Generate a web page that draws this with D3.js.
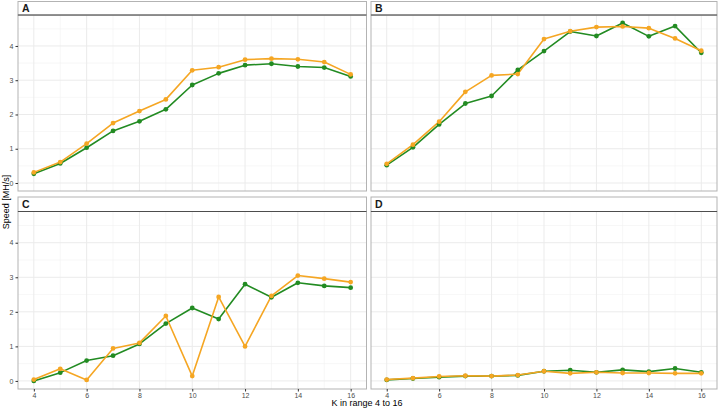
<!DOCTYPE html>
<html>
<head>
<meta charset="utf-8">
<script src="https://cdn.jsdelivr.net/npm/d3@7/dist/d3.min.js"></script>
<style>
  html, body { margin: 0; padding: 0; background: #fff; }
  svg { display: block; font-family: "Liberation Sans", Arial, sans-serif; }
</style>
</head>
<body>
<svg id="chart" width="720" height="409"></svg>
<script>
const kValues = [4, 5, 6, 7, 8, 9, 10, 11, 12, 13, 14, 15, 16];
const panelNames = ["A", "B", "C", "D"];
const xTicks = [4, 6, 8, 10, 12, 14, 16];
const yTicks = [0, 1, 2, 3, 4];

const greenA = [0.27, 0.57, 1.03, 1.52, 1.80, 2.15, 2.86, 3.20, 3.44, 3.48, 3.40, 3.37, 3.11];
const orangeA = [0.31, 0.61, 1.15, 1.75, 2.10, 2.44, 3.29, 3.38, 3.60, 3.63, 3.61, 3.53, 3.17];
const greenB = [0.52, 1.04, 1.71, 2.32, 2.54, 3.30, 3.85, 4.42, 4.29, 4.67, 4.28, 4.58, 3.80];
const orangeB = [0.56, 1.12, 1.79, 2.66, 3.14, 3.18, 4.20, 4.43, 4.55, 4.57, 4.52, 4.22, 3.86];
const greenC = [0.00, 0.24, 0.59, 0.73, 1.07, 1.66, 2.11, 1.79, 2.80, 2.42, 2.84, 2.75, 2.70];
const orangeC = [0.04, 0.35, 0.03, 0.94, 1.10, 1.88, 0.14, 2.43, 1.00, 2.46, 3.05, 2.96, 2.86];
const greenD = [0.03, 0.07, 0.11, 0.14, 0.14, 0.16, 0.28, 0.31, 0.25, 0.32, 0.27, 0.36, 0.25];
const orangeD = [0.04, 0.08, 0.13, 0.15, 0.14, 0.17, 0.28, 0.22, 0.25, 0.23, 0.23, 0.22, 0.22];

const seriesColors = ["#228B22", "#F5A623"];
const panelSeries = {
  A: [greenA, orangeA],
  B: [greenB, orangeB],
  C: [greenC, orangeC],
  D: [greenD, orangeD]
};

const svg = d3.select("#chart");

const cols = [{x0: 18, x1: 366.5}, {x0: 371, x1: 717}];
const rows = [{s0: 1.5, y0: 15, y1: 191}, {s0: 197, y0: 211.5, y1: 389}];

const allVals = [].concat(...Object.values(panelSeries).flat());
const yMin = d3.min(allVals), yMax = d3.max(allVals);
const yPad = (yMax - yMin) * 0.05;
const xPad = (d3.max(kValues) - d3.min(kValues)) * 0.05;

panelNames.forEach((name, i) => {
  const c = cols[i % 2], r = rows[Math.floor(i / 2)];
  const x = d3.scaleLinear().domain([d3.min(kValues) - xPad, d3.max(kValues) + xPad]).range([c.x0, c.x1]);
  const y = d3.scaleLinear().domain([yMin - yPad, yMax + yPad]).range([r.y1, r.y0]);
  const g = svg.append("g");

  // grid minor
  const xMinor = d3.range(5, 16, 2);
  const yMinor = [0.5, 1.5, 2.5, 3.5, 4.5];
  g.selectAll(".xmin").data(xMinor).join("line")
    .attr("x1", d => x(d)).attr("x2", d => x(d)).attr("y1", r.y0).attr("y2", r.y1)
    .attr("stroke", "#F2F2F2").attr("stroke-width", 0.6);
  g.selectAll(".ymin").data(yMinor).join("line")
    .attr("x1", c.x0).attr("x2", c.x1).attr("y1", d => y(d)).attr("y2", d => y(d))
    .attr("stroke", "#F2F2F2").attr("stroke-width", 0.6);
  g.selectAll(".xmaj").data(xTicks).join("line")
    .attr("x1", d => x(d)).attr("x2", d => x(d)).attr("y1", r.y0).attr("y2", r.y1)
    .attr("stroke", "#EBEBEB").attr("stroke-width", 1);
  g.selectAll(".ymaj").data(yTicks).join("line")
    .attr("x1", c.x0).attr("x2", c.x1).attr("y1", d => y(d)).attr("y2", d => y(d))
    .attr("stroke", "#EBEBEB").attr("stroke-width", 1);

  // series lines then points
  const line = d3.line().x((d, j) => x(kValues[j])).y(d => y(d));
  panelSeries[name].forEach((vals, s) => {
    g.append("path").datum(vals).attr("d", line)
      .attr("fill", "none").attr("stroke", seriesColors[s]).attr("stroke-width", 1.6)
      .attr("stroke-linejoin", "round");
  });
  panelSeries[name].forEach((vals, s) => {
    g.selectAll(null).data(vals).join("circle")
      .attr("cx", (d, j) => x(kValues[j])).attr("cy", d => y(d)).attr("r", 2.4)
      .attr("fill", seriesColors[s]);
  });

  // panel border
  g.append("rect").attr("x", c.x0).attr("y", r.y0).attr("width", c.x1 - c.x0).attr("height", r.y1 - r.y0)
    .attr("fill", "none").attr("stroke", "#B3B3B3").attr("stroke-width", 1);
  // strip
  g.append("rect").attr("x", c.x0).attr("y", r.s0).attr("width", c.x1 - c.x0).attr("height", r.y0 - r.s0)
    .attr("fill", "#fff").attr("stroke", "#B3B3B3").attr("stroke-width", 1);
  g.append("line").attr("x1", c.x0).attr("x2", c.x1).attr("y1", r.y0).attr("y2", r.y0)
    .attr("stroke", "#4D4D4D").attr("stroke-width", 1.2);
  g.append("text").attr("x", c.x0 + 4).attr("y", r.y0 - 3.5)
    .attr("font-size", 10.5).attr("font-weight", "bold").attr("fill", "#1A1A1A").text(name);

  // y axis on left column
  if (i % 2 === 0) {
    const ya = g.append("g").attr("transform", `translate(${c.x0},0)`)
      .call(d3.axisLeft(y).tickValues(yTicks).tickSize(2.5).tickPadding(2).tickFormat(d3.format("d")));
    ya.select(".domain").remove();
    ya.selectAll("line").attr("stroke", "#333");
    ya.selectAll("text").attr("font-size", 7).attr("fill", "#4D4D4D").attr("font-family", "Liberation Sans, Arial, sans-serif");
  }
  // x axis on bottom row
  if (i >= 2) {
    const xa = g.append("g").attr("transform", `translate(0,${r.y1})`)
      .call(d3.axisBottom(x).tickValues(xTicks).tickSize(2.5).tickPadding(1.5).tickFormat(d3.format("d")));
    xa.select(".domain").remove();
    xa.selectAll("line").attr("stroke", "#333");
    xa.selectAll("text").attr("font-size", 7).attr("fill", "#4D4D4D").attr("font-family", "Liberation Sans, Arial, sans-serif");
  }
});

svg.append("text").attr("x", 367).attr("y", 406).attr("text-anchor", "middle")
  .attr("font-size", 9).attr("fill", "#000").text("K in range 4 to 16");
svg.append("text").attr("transform", "translate(8.5,202) rotate(-90)").attr("text-anchor", "middle")
  .attr("font-size", 9).attr("fill", "#000").text("Speed [MH/s]");
</script>
</body>
</html>
